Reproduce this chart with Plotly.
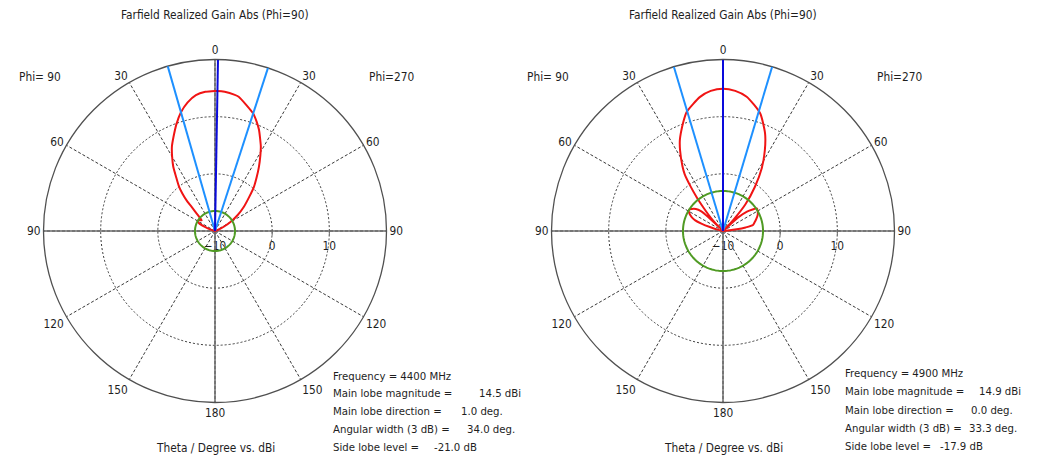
import numpy as np
import plotly.graph_objects as go

W, H = 1046, 461
OFF = 8  # page body margin of the browser
FW, FH = W - OFF, H - OFF

# ---------------- data ----------------
R_MIN, R_MAX = -10, 20
radial_ticks = [-10, 0, 10]
angle_ticks = [0, 30, 60, 90, 120, 150, 180, 210, 240, 270, 300, 330]
angle_labels = ["0", "30", "60", "90", "120", "150", "180", "150", "120", "90", "60", "30"]

# theta (deg): negative = Phi=90 side (left), positive = Phi=270 side (right)
theta_4400 = [-180, -90, -80, -76, -72, -68, -64, -60, -56, -51, -48, -44.5, -43, -41, -39,
              -36, -33, -30, -27, -24, -20, -16, -12, -8, -4, 0, 1, 4, 8, 10, 14, 18, 21,
              23.5, 26, 28.5, 31, 34.4, 38, 41.4, 45, 50, 55, 59.4, 64, 70, 75, 90, 180]
gain_4400 = [-10, -10, -10, -10, -9.2, -8.0, -6.9, -6.5, -6.6, -7.0, -6.2, -4.5, -2.8, -1.3, 0.0,
             1.5, 3.4, 5.0, 6.6, 7.9, 9.8, 11.6, 13.0, 14.0, 14.4, 14.5, 14.5, 14.4, 14.1, 13.85, 12.7, 11.6, 10.4,
             9.3, 8.0, 6.8, 5.4, 3.6, 1.8, 0.3, -1.5, -3.4, -5.2, -6.8, -8.3, -9.6, -10, -10, -10]

theta_4900 = [-180, -90, -80, -76, -73, -71, -69, -66, -62, -58, -55, -51, -48, -46.5, -44.5,
              -44, -42.5, -40, -38, -36, -34, -32, -28, -25.4, -23.4, -20, -16.9, -9.7, -5, 0,
              5, 10, 17.5, 23.3, 27.4, 31.7, 35.8, 40.2, 43, 45, 46.5, 48, 51, 54, 56.3, 60,
              65, 70, 75, 78.7, 81, 83, 86, 88, 90, 180]
gain_4900 = [-10, -10, -10, -9.2, -7.6, -6.0, -4.8, -4.0, -3.3, -3.0, -3.3, -3.9, -4.8, -6.5, -9.5,
             -8.5, -6.8, -4.8, -2.6, -0.3, 2.0, 3.4, 6.0, 7.6, 8.6, 10.3, 11.8, 13.8, 14.6, 14.9,
             14.6, 13.85, 11.6, 8.6, 5.9, 2.9, -0.45, -4.0, -7.4, -9.5, -10, -6.5, -4.6, -3.6, -2.9, -3.0,
             -3.3, -3.8, -4.3, -4.65, -6.0, -7.6, -9.5, -10, -10, -10]

frequencies = [4400, 4900]
main_lobe_mag = [14.5, 14.9]       # dBi
main_lobe_dir = [1.0, 0.0]         # deg
angular_width = [34.0, 33.3]       # deg (3 dB)
side_lobe_level = [-21.0, -17.9]   # dB

panels = [
    dict(theta=theta_4400, gain=gain_4400, i=0, sub="polar", cx=215, cy=231,
         info_x=331, info_y=[376, 393.5, 411, 429, 447.3], val_x=[476.7, 459, 465, 431.7]),
    dict(theta=theta_4900, gain=gain_4900, i=1, sub="polar2", cx=723, cy=231,
         info_x=842.5, info_y=[373.5, 391.8, 410, 428.3, 446.7], val_x=[977, 969, 966.7, 937.7]),
]

FONT = "Tahoma, 'DejaVu Sans Condensed', 'Liberation Sans', Arial, sans-serif"
FS = 11.8
FS_INFO = 11.3
TXT = "#1e1e1e"
RAD_PX = 171.5

fig = go.Figure()


def px(x):
    return (x - OFF) / FW


def py(y):
    return 1 - (y - OFF) / FH


annotations = []
for p in panels:
    i = p["i"]
    sub = p["sub"]
    # solid axis lines through centre
    for a, b in [(90, 270), (0, 180)]:
        fig.add_trace(go.Scatterpolar(r=[R_MAX, R_MIN, R_MAX], theta=[a, a, b], mode="lines",
                                      line=dict(color="#6a6a6a", width=1.5), subplot=sub,
                                      hoverinfo="skip", showlegend=False))
    # pattern
    fig.add_trace(go.Scatterpolar(r=np.clip(np.array(p["gain"], float), R_MIN, None), theta=p["theta"],
                                  mode="lines", line=dict(color="#f01414", width=2, shape="spline",
                                                          smoothing=0.6),
                                  subplot=sub, hoverinfo="skip", showlegend=False))
    # side lobe level circle
    sl_r = main_lobe_mag[i] + side_lobe_level[i]
    circ_t = np.linspace(0, 360, 181)
    fig.add_trace(go.Scatterpolar(r=np.full(circ_t.size, sl_r), theta=circ_t, mode="lines",
                                  line=dict(color="#4f9a23", width=2), subplot=sub,
                                  hoverinfo="skip", showlegend=False))
    # 3 dB width lines
    half = angular_width[i] / 2
    for t in (main_lobe_dir[i] - half, main_lobe_dir[i] + half):
        fig.add_trace(go.Scatterpolar(r=[R_MIN, R_MAX], theta=[t, t], mode="lines",
                                      line=dict(color="#1e90ff", width=2), subplot=sub,
                                      hoverinfo="skip", showlegend=False))
    # main lobe direction
    fig.add_trace(go.Scatterpolar(r=[R_MIN, R_MAX], theta=[main_lobe_dir[i]] * 2, mode="lines",
                                  line=dict(color="#0a0adc", width=2), subplot=sub,
                                  hoverinfo="skip", showlegend=False))

    cx, cy = p["cx"], p["cy"]
    dom = dict(x=[px(cx - RAD_PX), px(cx + RAD_PX)], y=[py(cy + RAD_PX), py(cy - RAD_PX)])
    fig.update_layout({sub: dict(
        domain=dom, bgcolor="white",
        angularaxis=dict(rotation=90, direction="clockwise", tickmode="array",
                         tickvals=angle_ticks, ticktext=angle_labels, ticks="",
                         showline=True, linecolor="#505050", linewidth=1.3, layer="below traces",
                         showgrid=True, gridcolor="#3a3a3a", griddash="3px,2px", gridwidth=1,
                         tickfont=dict(family=FONT, size=FS, color=TXT)),
        radialaxis=dict(range=[R_MIN, R_MAX], tickmode="array", tickvals=radial_ticks,
                        angle=0, side="clockwise", showline=False, showgrid=True, layer="below traces",
                        gridcolor="#3a3a3a", griddash="2px,2px", gridwidth=1,
                        ticks="outside", ticklen=4, tickcolor="#6a6a6a",
                        tickfont=dict(family=FONT, size=FS, color=TXT)),
    )})

    def ann(text, x, y, anchor="center", size=FS):
        annotations.append(dict(text=text, x=px(x), y=py(y), xref="paper", yref="paper",
                                xanchor=anchor, yanchor="middle", showarrow=False,
                                font=dict(family=FONT, size=size, color=TXT)))

    ann("Farfield Realized Gain Abs (Phi=90)", cx, 15)
    ann("Phi= 90", cx - 175, 76.5)
    ann("Phi=270", cx + 176, 76.5)
    ann("Theta / Degree vs. dBi", cx, 448)

    fx, fy, vx = p["info_x"], p["info_y"], p["val_x"]
    ann(f"Frequency = {frequencies[i]} MHz", fx, fy[0], "left", FS_INFO)
    ann("Main lobe magnitude =", fx, fy[1], "left", FS_INFO)
    ann(f"{main_lobe_mag[i]:.1f} dBi", vx[0], fy[1], "left", FS_INFO)
    ann("Main lobe direction =", fx, fy[2], "left", FS_INFO)
    ann(f"{main_lobe_dir[i]:.1f} deg.", vx[1], fy[2], "left", FS_INFO)
    ann("Angular width (3 dB) =", fx, fy[3], "left", FS_INFO)
    ann(f"{angular_width[i]:.1f} deg.", vx[2], fy[3], "left", FS_INFO)
    ann("Side lobe level =", fx, fy[4], "left", FS_INFO)
    ann(f"{side_lobe_level[i]:.1f} dB", vx[3], fy[4], "left", FS_INFO)

fig.update_layout(width=FW, height=FH, margin=dict(l=0, r=0, t=0, b=0),
                  paper_bgcolor="white", plot_bgcolor="white", showlegend=False,
                  annotations=annotations, font=dict(family=FONT, size=FS, color=TXT))

fig.write_html("out.html")
